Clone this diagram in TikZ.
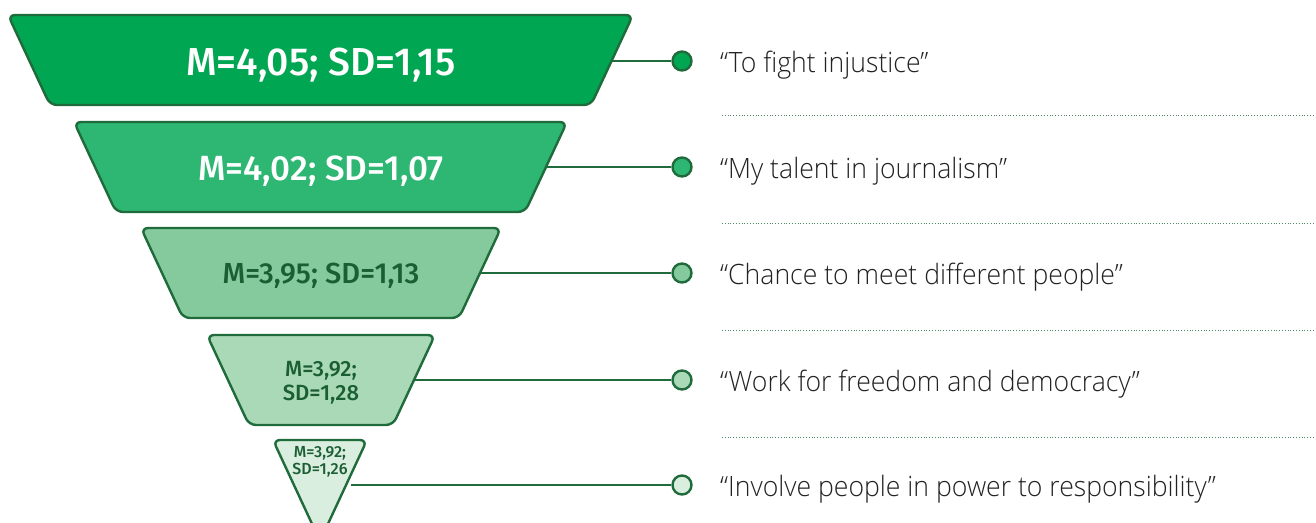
\documentclass[tikz,border=0pt]{standalone}
\usepackage{fontspec}
\setmainfont{Open Sans}[UprightFont={* Light}, FakeStretch=0.95]
\newfontfamily\numfont{Fira Sans}[UprightFont={* Medium}]
\definecolor{gA}{HTML}{00A651}
\definecolor{gB}{HTML}{2EB673}
\definecolor{gC}{HTML}{85CA9C}
\definecolor{gD}{HTML}{A9D9B6}
\definecolor{gE}{HTML}{D9EEDF}
\definecolor{edge}{HTML}{1F6B3B}
\definecolor{dtext}{HTML}{1B5E34}
\definecolor{ltext}{HTML}{222222}
\tikzset{
  funnel/.style={draw=edge, line width=2.4pt, rounded corners=7pt, line join=round},
  numtxt/.style={anchor=base, align=center, inner sep=0pt},
  dot/.style={circle, draw=edge, line width=2.4pt, minimum size=19pt, inner sep=0pt},
  conn/.style={draw=edge, line width=2pt},
  lbl/.style={anchor=base west, font=\fontsize{28}{30}\selectfont, text=ltext, inner sep=0pt},
  sep/.style={draw=edge!80, line width=0.8pt, dotted}
}
\begin{document}
\begin{tikzpicture}[x=1pt, y=-1pt]
\useasboundingbox (0,0) rectangle (1316,522);
\begin{scope}
\clip (0,0) rectangle (1316,522);
% funnel levels
\path[funnel, fill=gA] (8,15) -- (633,15) -- (591,105) -- (50,105) -- cycle;
\path[funnel, fill=gB] (74,122) -- (567,122) -- (525,212) -- (116,212) -- cycle;
\path[funnel, fill=gC] (141,228) -- (501,228) -- (459,318) -- (183,318) -- cycle;
\path[funnel, fill=gD] (207,335) -- (435,335) -- (393,425) -- (249,425) -- cycle;
\path[funnel, fill=gE] (273,440) -- (367,440) -- (320,541) -- cycle;
\end{scope}
% texts
\node[numtxt, text=white, font=\numfont\fontsize{39}{39}\selectfont] (t1) at (321,75) {M=4,05; SD=1,15};
\node[numtxt, text=white, font=\numfont\fontsize{35}{35}\selectfont] (t2) at (321,180) {M=4,02; SD=1,07};
\node[numtxt, text=dtext, font=\numfont\fontsize{29}{29}\selectfont] (t3) at (321,283) {M=3,95; SD=1,13};
\node[numtxt, text=dtext, font=\numfont\fontsize{22}{24}\selectfont] (t4) at (321,400) {M=3,92;\\SD=1,28};
\node[numtxt, text=dtext, font=\numfont\fontsize{16}{17}\selectfont] (t5) at (320,474) {M=3,92;\\SD=1,26};
% connector start points on funnel sides
\coordinate (s1) at (612,61);
\coordinate (s2) at (546,167);
\coordinate (s3) at (480,273);
\coordinate (s4) at (414,380);
\coordinate (s5) at (351,485);
% dots
\node[dot, fill=gA] (c1) at (682,61) {};
\node[dot, fill=gB] (c2) at (682,167) {};
\node[dot, fill=gC] (c3) at (682,273) {};
\node[dot, fill=gD] (c4) at (682,380) {};
\node[dot, fill=gE] (c5) at (682,485) {};
\foreach \i in {1,...,5} { \path[conn] (s\i) -- (c\i.west); }
% labels
\node[lbl] (l1) at (720,72) {“To fight injustice”};
\node[lbl] (l2) at (720,178) {“My talent in journalism”};
\node[lbl] (l3) at (720,284) {“Chance to meet different people”};
\node[lbl] (l4) at (720,391) {“Work for freedom and democracy”};
\node[lbl] (l5) at (720,496) {“Involve people in power to responsibility”};
% dotted separators
\coordinate (d1a) at (722,115); \coordinate (d1b) at (1316,115);
\coordinate (d2a) at (722,223); \coordinate (d2b) at (1316,223);
\coordinate (d3a) at (722,330); \coordinate (d3b) at (1316,330);
\coordinate (d4a) at (722,437); \coordinate (d4b) at (1316,437);
\foreach \i in {1,...,4} { \path[sep] (d\i a) -- (d\i b); }
\end{tikzpicture}
\end{document}
